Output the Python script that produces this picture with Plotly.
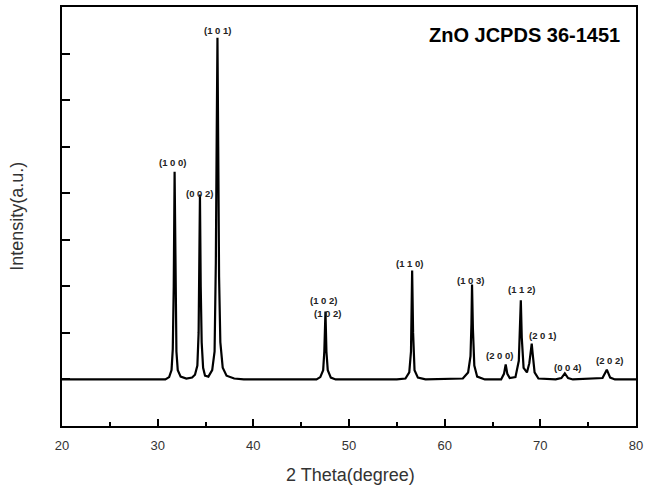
import plotly.graph_objects as go

# Digitized XRD pattern (2θ in degrees, intensity in arbitrary units, baseline = 0)
two_theta = [20.0, 25.0, 30.0, 30.8, 31.2, 31.45, 31.58, 31.68, 31.77, 31.86, 31.96, 32.1, 32.4, 33.0, 33.6,
             33.9, 34.15, 34.28, 34.35, 34.42, 34.5, 34.6, 34.75, 34.95, 35.3, 35.7, 35.95, 36.08, 36.18,
             36.25, 36.33, 36.42, 36.55, 36.8, 37.2, 38.0, 39.0, 45.0, 46.6, 47.0, 47.3, 47.42, 47.54,
             47.64, 47.78, 48.1, 48.6, 55.0, 55.9, 56.3, 56.48, 56.6, 56.7, 56.85, 57.2, 58.0, 61.9,
             62.45, 62.7, 62.8, 62.86, 62.95, 63.1, 63.4, 64.2, 65.9, 66.2, 66.38, 66.55, 66.8, 67.4,
             67.75, 67.88, 67.96, 68.06, 68.25, 68.6, 68.85, 69.03, 69.1, 69.2, 69.4, 69.8, 71.6, 72.2,
             72.56, 72.9, 73.4, 76.5, 76.95, 77.3, 77.8, 80.0]
intensity = [0.0, 0.0, 0.0, 0.0, 0.05, 0.2, 0.65, 2.0, 4.46, 2.0, 0.6, 0.2, 0.06, 0.02, 0.04,
             0.1, 0.3, 1.0, 2.2, 3.97, 2.0, 0.8, 0.25, 0.08, 0.06, 0.2, 0.6, 2.5, 5.5,
             7.34, 5.0, 2.2, 0.8, 0.25, 0.08, 0.02, 0.0, 0.0, 0.0, 0.05, 0.2, 0.6, 1.46,
             0.6, 0.2, 0.04, 0.0, 0.0, 0.02, 0.15, 0.6, 2.34, 1.0, 0.2, 0.04, 0.0, 0.02,
             0.15, 0.5, 1.2, 2.04, 1.1, 0.3, 0.06, 0.0, 0.0, 0.12, 0.32, 0.12, 0.03, 0.05,
             0.4, 1.0, 1.70, 0.9, 0.25, 0.15, 0.35, 0.65, 0.77, 0.55, 0.15, 0.02, 0.0, 0.03,
             0.13, 0.03, 0.0, 0.03, 0.21, 0.04, 0.0, 0.0]

# Miller-index labels
hkl_labels = ["(1 0 0)", "(0 0 2)", "(1 0 1)", "(1 0 2)", "(1 0 2)", "(1 1 0)", "(1 0 3)",
              "(2 0 0)", "(1 1 2)", "(2 0 1)", "(0 0 4)", "(2 0 2)"]
label_x = [31.54, 34.35, 36.22, 47.35, 47.76, 56.29, 62.69, 65.72, 68.0, 70.22, 72.82, 77.26]
label_y = [4.67, 3.99, 7.5, 1.70, 1.42, 2.49, 2.13, 0.52, 1.93, 0.95, 0.26, 0.41]

x_ticks = [20, 30, 40, 50, 60, 70, 80]

fig = go.Figure()
fig.add_trace(go.Scatter(x=two_theta, y=intensity, mode="lines",
                         line=dict(color="black", width=2.2), showlegend=False,
                         hoverinfo="skip"))

annotations = []
for t, lx, ly in zip(hkl_labels, label_x, label_y):
    annotations.append(dict(x=lx, y=ly, xref="x", yref="y", text="<b>" + t + "</b>",
                            showarrow=False, xanchor="center", yanchor="middle",
                            font=dict(family="Liberation Sans, Arial", size=9.5, color="#222")))
annotations.append(dict(x=0.976, y=0.933, xref="paper", yref="paper",
                        text="<b>ZnO JCPDS 36-1451</b>", showarrow=False,
                        xanchor="right", yanchor="middle",
                        font=dict(family="Liberation Sans, Arial", size=20, color="black")))
annotations.append(dict(x=-0.0797, y=0.50, xref="paper", yref="paper",
                        text="Intensity(a.u.)", textangle=-90, showarrow=False,
                        xanchor="center", yanchor="middle",
                        font=dict(family="Liberation Sans, Arial", size=18, color="#333")))
annotations.append(dict(x=0.503, y=-0.117, xref="paper", yref="paper",
                        text="2 Theta(degree)", showarrow=False,
                        xanchor="center", yanchor="middle",
                        font=dict(family="Liberation Sans, Arial", size=18, color="#333")))

fig.update_layout(
    width=648, height=488,
    margin=dict(l=62, r=9, t=5, b=62),
    paper_bgcolor="white", plot_bgcolor="white",
    annotations=annotations,
    xaxis=dict(range=[20, 80], tickmode="array", tickvals=x_ticks,
               ticktext=[str(v) for v in x_ticks],
               ticks="inside", ticklen=7, tickwidth=1.5, tickcolor="black",
               minor=dict(dtick=5, ticks="inside", ticklen=4, tickwidth=1.5, tickcolor="black"),
               showline=True, linecolor="black", linewidth=2, mirror=True,
               showgrid=False, zeroline=False, ticklabelstandoff=6,
               tickfont=dict(family="Liberation Sans, Arial", size=13, color="#333")),
    yaxis=dict(range=[-1, 8], dtick=1, tick0=0, showticklabels=False,
               ticks="inside", ticklen=8, tickwidth=1.5, tickcolor="black",
               showline=True, linecolor="black", linewidth=2, mirror=True,
               showgrid=False, zeroline=False),
)

fig.write_html("out.html")
